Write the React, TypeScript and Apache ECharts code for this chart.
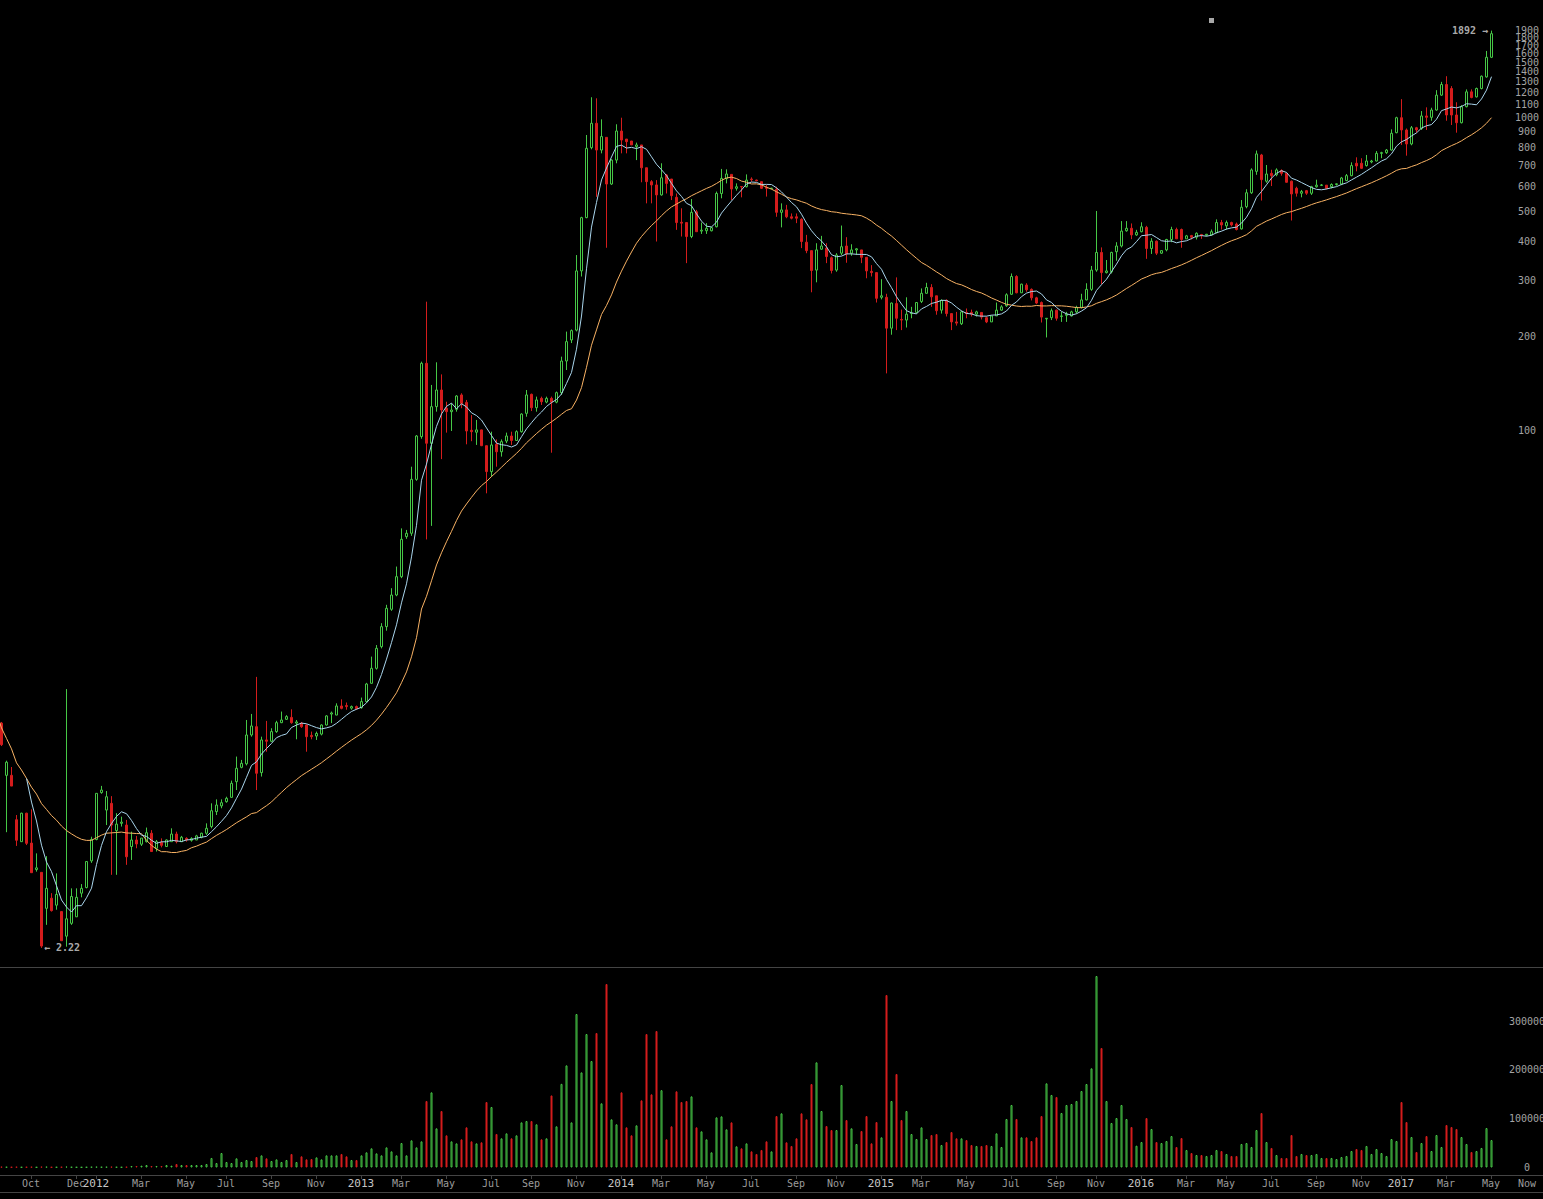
import React, { useEffect, useRef } from 'react';
import * as echarts from 'echarts';

// weekly candles: [open, high, low, close]. first row is the week just left of the visible area
const weeklyOhlc: number[][] = [
  [13.0, 13.5, 12.0, 12.5],
  [11.6, 11.7, 9.8, 9.9], [7.9, 8.8, 5.2, 8.7], [7.9, 8.4, 7.3, 7.3], [5.7, 5.9, 4.7, 4.9], [4.85, 6.0, 4.85, 5.98],
  [5.98, 6.0, 4.73, 4.79], [4.8, 6.15, 3.86, 3.86], [3.95, 4.45, 3.89, 4.0], [3.87, 3.87, 2.22, 2.25], [2.97, 4.36, 2.63, 3.44],
  [3.2, 3.32, 2.9, 2.92], [3.04, 3.84, 2.94, 3.29], [2.9, 2.9, 2.34, 2.34], [2.42, 14.9, 2.24, 2.75], [2.66, 3.44, 2.63, 3.24],
  [2.79, 3.44, 2.79, 3.22], [3.32, 3.55, 3.22, 3.44], [3.46, 4.2, 3.44, 4.19], [4.21, 5.03, 4.15, 4.93], [4.93, 6.92, 4.9, 6.92],
  [6.96, 7.31, 6.9, 7.09], [6.12, 7.04, 5.48, 6.75], [6.43, 6.78, 3.8, 5.48], [5.26, 5.98, 3.8, 5.52], [5.55, 5.83, 5.42, 5.6],
  [5.48, 5.69, 4.09, 4.34], [4.68, 5.22, 4.24, 4.91], [4.91, 5.06, 4.62, 4.77], [4.76, 4.98, 4.7, 4.98], [4.85, 5.38, 4.82, 5.18],
  [5.16, 5.28, 4.5, 4.51], [4.62, 4.91, 4.51, 4.85], [4.82, 4.97, 4.65, 4.72], [4.68, 4.93, 4.68, 4.91], [4.85, 5.35, 4.85, 5.13],
  [5.13, 5.22, 4.79, 4.85], [4.85, 5.06, 4.85, 5.01], [4.97, 5.01, 4.85, 4.91], [4.9, 5.01, 4.85, 4.96], [4.91, 5.1, 4.91, 5.06],
  [5.01, 5.18, 4.97, 5.16], [5.16, 5.55, 5.1, 5.35], [5.42, 6.43, 5.35, 6.09], [6.05, 6.62, 5.9, 6.35], [6.31, 6.62, 6.2, 6.46],
  [6.51, 6.75, 6.46, 6.67], [6.72, 7.6, 6.7, 7.45], [7.54, 9.07, 7.09, 8.32], [8.38, 8.85, 8.32, 8.63], [8.6, 11.87, 8.5, 10.63],
  [10.63, 12.41, 10.5, 11.36], [11.3, 16.3, 7.09, 8.02], [8.06, 10.5, 7.83, 10.25], [10.25, 11.79, 9.4, 10.15], [10.15, 11.17, 10.1, 10.9],
  [10.9, 11.8, 10.8, 11.64], [11.64, 12.63, 11.6, 11.87], [11.93, 12.3, 11.87, 12.17], [12.1, 12.84, 11.55, 11.64], [11.6, 11.87, 10.3, 11.7],
  [11.6, 11.7, 11.2, 11.3], [11.44, 11.5, 9.4, 10.5], [10.6, 10.9, 10.3, 10.5], [10.55, 10.9, 10.25, 10.75], [10.7, 11.5, 10.6, 11.44],
  [11.44, 12.3, 11.4, 12.23], [12.4, 12.63, 11.6, 12.5], [12.31, 13.42, 12.3, 13.16], [13.16, 13.82, 12.84, 12.93], [13.2, 13.5, 12.8, 13.1],
  [12.95, 13.2, 12.8, 13.1], [13.1, 13.2, 12.8, 12.9], [13.0, 14.0, 12.9, 13.59], [13.59, 15.6, 13.5, 15.47], [15.55, 18.92, 15.5, 17.36],
  [17.36, 20.6, 17.2, 20.11], [20.36, 24.2, 20.1, 23.59], [23.59, 27.7, 22.9, 27.0], [26.8, 31.3, 26.5, 29.77], [29.77, 36.7, 29.5, 34.07],
  [34.07, 48.6, 33.7, 44.84], [45.74, 48.05, 45, 46.88], [46.88, 76.5, 46, 69.7], [69.7, 96.6, 69, 95.9], [95.5, 165.7, 94, 163.7],
  [163.7, 257.6, 44.8, 90.9], [90.9, 139.6, 49.5, 119], [119, 164.9, 114.7, 134.5], [134.5, 150.9, 80.9, 116.1], [117.6, 123.4, 98.3, 114.7],
  [114.7, 121.9, 99.5, 116.1], [116.7, 129.5, 114.7, 128.7], [129.7, 131.3, 117.6, 121.9], [122.8, 125, 90.2, 99.5], [100, 111.9, 92.3, 99],
  [98.6, 107.9, 89.8, 100.3], [100.3, 100.5, 89, 89.3], [89.3, 89.5, 62.9, 73.8], [73.8, 99, 71.1, 89.8], [90.2, 93.5, 76.5, 85.4],
  [85.4, 93.5, 82.4, 92], [92.4, 98.3, 91, 95.9], [95.9, 99, 89.8, 92.8], [92.8, 100, 92.5, 99], [99, 113.3, 98.3, 112.7],
  [113.3, 134.5, 110.5, 129.7], [130.3, 131, 115.2, 118.1], [118.1, 128.1, 114.7, 125], [126.5, 128.1, 120.5, 123.4], [123.1, 128.1, 122, 126.5],
  [126.5, 128.1, 84.8, 123], [123, 133, 122, 131.9], [131.9, 171.9, 129.7, 166.5], [166.5, 206.7, 155.8, 192], [194.4, 210, 190, 208.2],
  [209, 363, 207, 323], [323, 481, 310, 478], [478, 878, 476, 796], [800, 1159, 790, 957], [957, 1150, 557, 786],
  [786, 985, 767, 868], [863, 863, 383, 612], [612, 735, 608, 730], [730, 950, 713, 904], [904, 997, 767, 846],
  [852, 852, 767, 836], [840, 840, 816, 816], [806, 830, 730, 816], [816, 816, 620, 690], [690, 690, 531, 623],
  [623, 630, 531, 608], [608, 630, 401, 565], [565, 713, 562, 641], [654, 659, 571, 615], [635, 635, 544, 562],
  [555, 571, 437, 461], [462, 512, 416, 459], [461, 461, 342, 416], [416, 548, 411, 497], [499, 506, 431, 431],
  [433, 461, 424, 436], [434, 459, 424, 442], [434, 447, 432, 444], [447, 579, 445, 571], [571, 684, 551, 638],
  [637, 682, 615, 659], [657, 657, 544, 590], [593, 615, 583, 600], [601, 603, 555, 599], [600, 657, 597, 630],
  [635, 643, 623, 632], [630, 632, 625, 627], [623, 623, 590, 593], [597, 608, 558, 593], [592, 595, 589, 594],
  [589, 600, 481, 497], [497, 531, 445, 506], [506, 525, 476, 481], [481, 493, 472, 476], [481, 493, 459, 476],
  [472, 476, 382, 401], [399, 421, 368, 375], [375, 375, 276, 324], [325, 396, 297, 377], [379, 418, 377, 388],
  [382, 396, 342, 359], [356, 359, 317, 324], [325, 368, 321, 363], [368, 451, 363, 386], [388, 414, 343, 366],
  [368, 393, 361, 377], [377, 382, 363, 380], [377, 377, 342, 357], [357, 357, 306, 323], [322, 337, 310, 319],
  [319, 319, 256, 264], [266, 304, 262, 269], [266, 273, 152, 212], [212, 256, 202, 255], [254, 308, 209, 228],
  [226, 243, 209, 225], [225, 266, 213, 235], [236, 248, 228, 237], [238, 257, 236, 256], [258, 284, 255, 274],
  [274, 296, 273, 286], [286, 293, 248, 267], [269, 269, 234, 241], [242, 262, 236, 260], [260, 262, 231, 236],
  [236, 236, 209, 222], [222, 239, 216, 220], [219, 241, 217, 239], [238, 245, 228, 236], [238, 243, 231, 235],
  [235, 241, 231, 239], [238, 238, 226, 230], [229, 231, 220, 222], [222, 232, 222, 232], [232, 256, 232, 242],
  [242, 251, 241, 248], [250, 274, 248, 271], [272, 317, 271, 310], [310, 313, 274, 275], [275, 294, 275, 293],
  [291, 295, 277, 281], [282, 284, 260, 265], [265, 267, 253, 255], [256, 258, 221, 230], [227, 228, 198, 228],
  [229, 245, 225, 241], [242, 243, 224, 228], [231, 239, 222, 232], [233, 239, 222, 235], [232, 241, 231, 239],
  [239, 250, 236, 247], [247, 273, 245, 261], [261, 295, 260, 282], [282, 335, 279, 325], [325, 502, 321, 370],
  [370, 384, 293, 319], [319, 350, 317, 323], [321, 372, 317, 370], [372, 399, 348, 388], [388, 466, 384, 433],
  [434, 466, 431, 442], [442, 458, 408, 421], [421, 437, 418, 429], [431, 462, 429, 447], [445, 450, 353, 381],
  [381, 411, 366, 402], [402, 404, 363, 368], [368, 376, 366, 375], [377, 409, 373, 407], [407, 447, 399, 438],
  [438, 444, 409, 409], [438, 441, 383, 407], [409, 421, 409, 418], [419, 421, 407, 414], [414, 429, 407, 426],
  [422, 424, 409, 421], [420, 424, 417, 423], [421, 438, 419, 431], [428, 472, 426, 461], [461, 470, 438, 453],
  [450, 468, 438, 461], [461, 464, 448, 453], [456, 461, 435, 438], [440, 544, 438, 516], [518, 589, 512, 574],
  [574, 687, 569, 679], [672, 783, 655, 764], [758, 764, 542, 632], [625, 704, 618, 659], [662, 680, 603, 651],
  [655, 687, 648, 679], [676, 682, 651, 662], [662, 665, 618, 620], [625, 628, 468, 569], [593, 600, 558, 572],
  [572, 586, 555, 579], [583, 586, 565, 572], [572, 604, 565, 600], [600, 632, 596, 607], [606, 612, 603, 608],
  [607, 607, 589, 593], [600, 615, 593, 610], [610, 615, 605, 613], [612, 645, 607, 640], [628, 659, 625, 651],
  [651, 718, 648, 701], [713, 745, 672, 699], [713, 740, 684, 687], [701, 758, 696, 725], [720, 731, 713, 725],
  [725, 780, 723, 767], [767, 776, 740, 771], [771, 792, 764, 786], [786, 915, 783, 889], [893, 1004, 889, 997],
  [997, 1143, 816, 911], [911, 921, 754, 822], [822, 938, 814, 926], [926, 932, 893, 911], [921, 1047, 911, 1010],
  [1010, 1076, 911, 1000], [1000, 1073, 975, 1055], [1055, 1221, 1050, 1177], [1177, 1298, 1171, 1273], [1273, 1353, 975, 1017],
  [1236, 1258, 945, 1017], [1017, 1117, 893, 961], [961, 1094, 956, 1081], [1081, 1228, 1076, 1206], [1206, 1228, 1150, 1157],
  [1162, 1244, 1157, 1236], [1236, 1360, 1228, 1353], [1346, 1629, 1339, 1555], [1555, 1892, 1546, 1850],
];

// weekly volume, same rows as weeklyOhlc
const weeklyVolume: number[] = [
  1000,
  1500, 1200, 1000, 1300, 900, 1100, 1400, 800, 1600, 1500, 900, 1000, 1200, 1800, 1100, 900, 800, 1000, 1300, 1500,
  1200, 1400, 1600, 1100, 900, 1300,
  3100, 3100, 3800, 5100, 3100, 3100, 3100, 5100, 3800, 7200, 5100, 5100, 5100, 5100, 5100, 7200, 19500, 9200, 29700, 11300,
  9200, 18800, 11300, 15400, 13300, 21500, 24900, 18800, 13300, 16700, 11300, 15400, 27700, 11300, 22900, 16700, 17400, 20800,
  16700, 24900, 24900, 24900, 27700, 22900, 15400, 15400, 24900, 31100, 39300, 29000, 24900, 41300, 33100, 24900, 50200, 24900,
  55700, 41300, 53600,
  136300, 154000, 80300, 115800, 65900, 53600, 49500, 57700, 82300, 53600, 49500, 51600, 134200, 124000, 68700, 59800, 70000,
  59800, 65900, 92500, 95300, 95300, 88500, 57700, 59800, 147700, 84400, 171400, 209300, 92500, 314500, 194900, 273500, 218200,
  275600, 131500, 376000, 98700, 88500, 154000, 82300, 65900, 86400, 137600, 273500, 149900, 279700, 158500, 57700, 84400,
  156100, 134200, 136300, 145800, 82300, 74100, 57700, 31100, 102800, 104800, 78200, 92500, 43400, 39300, 49500, 33100, 27700,
  35900, 53600, 33100, 105500,
  111000, 51600, 44100, 59800, 111000, 98700, 171100, 215500, 115800, 85000, 76800, 76800, 169000, 97300, 80300, 48200, 74800,
  105500, 49500, 93200, 61800, 353500, 136300, 191600, 97300, 115800, 68600, 58400, 82300, 58400, 66600, 68600, 46100, 52200,
  72700, 59800, 59800, 56300, 46100, 44100, 44100, 46100, 44100, 70000, 42000, 99400, 128100, 99400, 61800, 61800, 54300, 61800,
  105500, 172500, 148600, 144500, 111700, 128100, 130100, 136300, 156700, 171100, 203200, 392400, 244900, 136300, 91200, 101400,
  128100, 99400, 83000, 44700, 52200, 101400, 78900, 52200, 50200, 54300, 64500, 42000, 60400, 35900, 29700, 25600, 25600,
  23600, 25600, 35900, 33800, 27700, 23600, 23600, 48200, 50200, 42000, 76800, 111700, 52200, 40000, 25600, 19500, 19500,
  66600, 23600, 27700, 25600, 25600, 27700, 19500, 19500, 19500, 17400, 21500, 23600, 33800, 37900, 35900, 44100, 27700, 37900,
  29700, 23600, 58400, 54300, 134200, 93200, 62500, 31800, 50200, 64500, 33800, 66600, 42000, 87100, 83000, 78900, 62500, 48200,
  31800, 33800, 40000, 80900, 56300,
];

const firstWeek = -1; // week index of the first row
const fastPeriod = 7;
const slowPeriod = 30;

const priceTicks = [100, 200, 300, 400, 500, 600, 700, 800, 900, 1000, 1100, 1200, 1300, 1400, 1500, 1600, 1700, 1800, 1900];
const volumeTicks = [0, 100000, 200000, 300000];

// x positions (in weeks) of the time axis ticks
const timeTickPos = [
  5.9, 14.9, 18.9, 27.9, 36.9, 44.9, 53.9, 62.9, 71.9, 79.9, 88.9, 97.9, 105.9, 114.9, 123.9, 131.9, 140.9, 149.9,
  158.9, 166.9, 175.9, 183.9, 192.9, 201.9, 210.9, 218.9, 227.9, 236.9, 244.9, 253.9, 262.9, 271.9, 279.9, 288.9, 297.9,
];
const timeTickLabels = [
  'Oct', 'Dec', '2012', 'Mar', 'May', 'Jul', 'Sep', 'Nov', '2013', 'Mar', 'May', 'Jul', 'Sep', 'Nov', '2014', 'Mar', 'May', 'Jul',
  'Sep', 'Nov', '2015', 'Mar', 'May', 'Jul', 'Sep', 'Nov', '2016', 'Mar', 'May', 'Jul', 'Sep', 'Nov', '2017', 'Mar', 'May',
];
const nowPos = 305.1;

const GREEN = '#46c846';
const RED = '#d41c1c';
const AXIS = '#444';
const MONO = 'DejaVu Sans Mono';

const W = 1543;
const X_MIN = -0.3; // puts every week centre on a half pixel
const X_MAX = X_MIN + W / 5;
const Y_MIN = (1056.3 - 967) / 313;
const Y_MAX = 1056.3 / 313;

const lg = (v: number) => Math.log10(v);

function buildOption() {
  const closes = weeklyOhlc.map(r => r[3]);

  const candles = weeklyOhlc.map((r, i) => [firstWeek + i, lg(r[0]), lg(r[3]), lg(r[2]), lg(r[1])]);

  const movingAvg = (n: number, strict: boolean) => {
    const out: number[][] = [];
    closes.forEach((_, i) => {
      if (strict && i < n - 1) return;
      const from = Math.max(0, i - n + 1);
      let s = 0;
      for (let j = from; j <= i; j++) s += closes[j];
      out.push([firstWeek + i, lg(s / (i - from + 1))]);
    });
    return out;
  };

  const volumeBars = weeklyVolume.map((v, i) => {
    const r = weeklyOhlc[i] || [0, 0, 0, 0];
    const up = r[3] >= r[0];
    return {
      value: [firstWeek + i, v],
      itemStyle: up
        ? { color: '#000', borderColor: GREEN, borderWidth: 1 }
        : { color: RED, borderColor: RED, borderWidth: 1 },
    };
  });

  // extremes of the visible weeks
  let lowIdx = 1;
  let highIdx = 1;
  for (let i = 1; i < weeklyOhlc.length; i++) {
    if (weeklyOhlc[i][2] < weeklyOhlc[lowIdx][2]) lowIdx = i;
    if (weeklyOhlc[i][1] > weeklyOhlc[highIdx][1]) highIdx = i;
  }
  const lowVal = weeklyOhlc[lowIdx][2];
  const highVal = weeklyOhlc[highIdx][1];

  const timeLabel = (v: number) => {
    if (Math.abs(v - nowPos) < 0.3) return '{mo|Now}';
    let best = 0;
    timeTickPos.forEach((p, i) => {
      if (Math.abs(p - v) < Math.abs(timeTickPos[best] - v)) best = i;
    });
    const t = timeTickLabels[best];
    return /^\d{4}$/.test(t) ? `{yr|${t}}` : `{mo|${t}}`;
  };

  const yLabel = {
    inside: true,
    align: 'center',
    margin: 16,
    color: '#a3a3a3',
    fontFamily: MONO,
    fontSize: 10,
    hideOverlap: false,
  };

  // an empty label at the top end keeps ECharts from dropping 1800 or 1900 where they touch
  const priceLabelValues = [...priceTicks.map(lg), Y_MAX];

  return {
    animation: false,
    backgroundColor: '#000',
    textStyle: { fontFamily: MONO },
    grid: [
      { left: 0, top: 0, width: W, height: 967, outerBoundsMode: 'none' },
      { left: 0, top: 972.3, width: W, height: 195.2, outerBoundsMode: 'none' },
    ],
    xAxis: [
      {
        type: 'value', gridIndex: 0, min: X_MIN, max: X_MAX,
        axisLine: { show: true, onZero: false, lineStyle: { color: AXIS, width: 1 } },
        axisTick: { show: false }, axisLabel: { show: false }, splitLine: { show: false },
      },
      {
        type: 'value', gridIndex: 1, min: X_MIN, max: X_MAX, offset: 7.5,
        axisLine: { show: true, onZero: false, lineStyle: { color: AXIS, width: 1 } },
        axisTick: { show: true, length: 4, customValues: timeTickPos, lineStyle: { color: AXIS } },
        axisLabel: {
          show: true,
          customValues: [...timeTickPos, nowPos],
          margin: 3,
          hideOverlap: false,
          showMinLabel: true,
          showMaxLabel: true,
          formatter: timeLabel,
          rich: {
            mo: { color: '#9c9c9c', fontSize: 10, fontFamily: MONO },
            yr: { color: '#c4c4c4', fontSize: 11, fontFamily: MONO },
          },
        },
        splitLine: { show: false },
      },
    ],
    yAxis: [
      {
        type: 'value', gridIndex: 0, position: 'right',
        min: Y_MIN, max: Y_MAX,
        axisLine: { show: false, onZero: false }, axisTick: { show: false }, splitLine: { show: false },
        axisLabel: {
          ...yLabel,
          customValues: priceLabelValues,
          formatter: (v: number) => (v > lg(1950) ? '' : String(Math.round(Math.pow(10, v)))),
        },
      },
      {
        type: 'value', gridIndex: 1, position: 'right', min: 0, max: 400000,
        axisLine: { show: false, onZero: false }, axisTick: { show: false }, splitLine: { show: false },
        axisLabel: {
          ...yLabel,
          customValues: volumeTicks,
          formatter: (v: number) => String(Math.round(v)),
        },
      },
    ],
    series: [
      {
        type: 'candlestick',
        xAxisIndex: 0, yAxisIndex: 0,
        data: candles,
        encode: { x: 0, y: [1, 2, 3, 4] },
        barWidth: 2,
        clip: true,
        silent: true,
        z: 2,
        itemStyle: { color: '#000', color0: RED, borderColor: GREEN, borderColor0: RED, borderColorDoji: GREEN, borderWidth: 1 },
      },
      {
        type: 'line', xAxisIndex: 0, yAxisIndex: 0,
        data: movingAvg(slowPeriod, false),
        showSymbol: false, symbol: 'none', silent: true, z: 3,
        lineStyle: { color: '#f8b264', width: 1 },
      },
      {
        type: 'line', xAxisIndex: 0, yAxisIndex: 0,
        data: movingAvg(fastPeriod, true),
        showSymbol: false, symbol: 'none', silent: true, z: 4,
        lineStyle: { color: '#a9d5ec', width: 1 },
      },
      {
        type: 'scatter', xAxisIndex: 0, yAxisIndex: 0, silent: true, z: 5,
        symbolSize: 1,
        itemStyle: { color: 'rgba(0,0,0,0)' },
        data: [
          {
            value: [firstWeek + lowIdx, lg(lowVal)],
            label: { show: true, position: 'right', distance: 2, formatter: '\u2190 ' + lowVal.toFixed(2) },
          },
          {
            value: [firstWeek + highIdx, lg(highVal)],
            label: { show: true, position: 'left', distance: 3, formatter: Math.round(highVal) + ' \u2192' },
          },
        ],
        label: { color: '#d8d8d8', fontFamily: MONO, fontSize: 10, fontWeight: 'bold' },
      },
      {
        type: 'bar', xAxisIndex: 1, yAxisIndex: 1,
        data: volumeBars,
        barWidth: 2,
        silent: true,
      },
    ],
    graphic: [
      { type: 'line', shape: { x1: 0, y1: 1192.5, x2: W, y2: 1192.5 }, style: { stroke: AXIS, lineWidth: 1 }, silent: true },
      { type: 'rect', shape: { x: 1209, y: 18, width: 5, height: 5 }, style: { fill: '#a8a8a8' }, silent: true },
    ],
  };
}

const App: React.FC = () => {
  const chartRef = useRef<HTMLDivElement>(null);

  useEffect(() => {
    if (!chartRef.current) return;
    const chart = echarts.init(chartRef.current, null, { renderer: 'svg' });
    chart.setOption(buildOption() as any);
    return () => {
      chart.dispose();
    };
  }, []);

  return (
    <div
      ref={chartRef}
      style={{ position: 'fixed', left: 0, top: 0, width: W, height: 1199, background: '#000' }}
    />
  );
};

export default App;
